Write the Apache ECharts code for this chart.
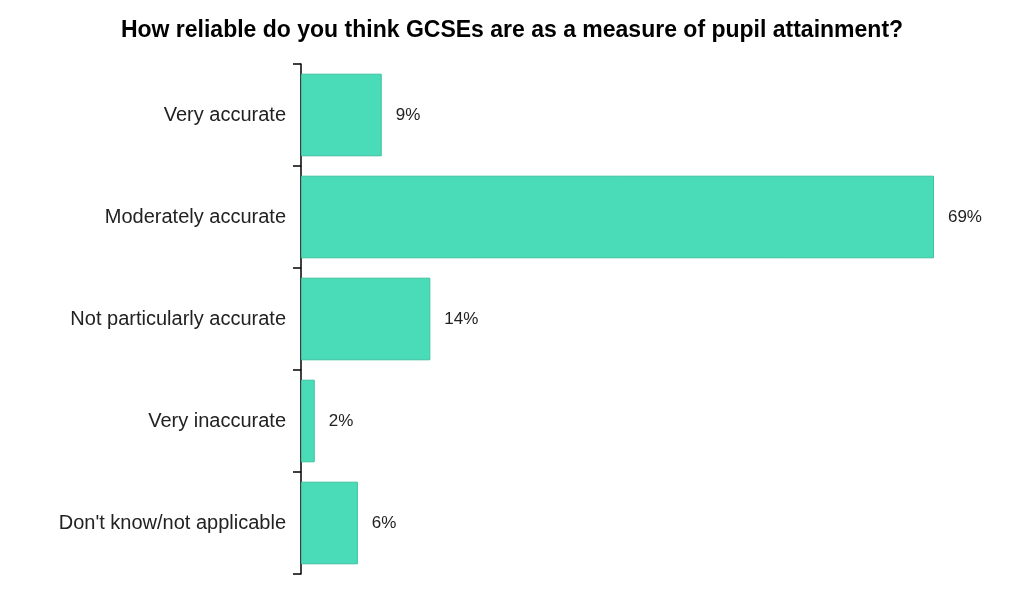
<!DOCTYPE html>
<html>
<head>
<meta charset="utf-8">
<script src="https://cdn.jsdelivr.net/npm/echarts@6/dist/echarts.min.js"></script>
<style>
html,body{margin:0;padding:0;background:#fff;}
#chart{width:1024px;height:591px;}
</style>
</head>
<body>
<div id="chart"></div>
<script>
const titleText = 'How reliable do you think GCSEs are as a measure of pupil attainment?';
const categories = ['Very accurate', 'Moderately accurate', 'Not particularly accurate', 'Very inaccurate', "Don't know/not applicable"];
const values = [8.8, 69.0, 14.1, 1.5, 6.2];
const valueLabels = ['9%', '69%', '14%', '2%', '6%'];

const chart = echarts.init(document.getElementById('chart'), null, {renderer: 'canvas'});
chart.setOption({
  animation: false,
  backgroundColor: '#ffffff',
  title: {
    text: titleText,
    left: 'center',
    top: 14,
    textStyle: {fontFamily: 'Liberation Sans, Arial, sans-serif', fontSize: 23, fontWeight: 'bold', color: '#000'}
  },
  grid: {left: 301, right: 35, top: 64, bottom: 17, containLabel: false},
  xAxis: {
    type: 'value', min: 0, max: 75, show: false
  },
  yAxis: {
    type: 'category',
    data: categories,
    inverse: true,
    axisLine: {show: true, lineStyle: {color: '#000', width: 1.5}},
    axisTick: {show: true, length: 8, lineStyle: {color: '#000', width: 1.5}},
    axisLabel: {margin: 15, fontFamily: 'Liberation Sans, Arial, sans-serif', fontSize: 20, color: '#222'}
  },
  series: [{
    type: 'bar',
    data: values,
    barCategoryGap: '19%',
    itemStyle: {color: '#4adcb8', borderColor: '#3cc29f', borderWidth: 1},
    label: {
      show: true,
      position: 'right',
      distance: 14,
      fontFamily: 'Liberation Sans, Arial, sans-serif',
      fontSize: 17,
      color: '#222',
      formatter: p => valueLabels[p.dataIndex]
    }
  }]
});
</script>
</body>
</html>
